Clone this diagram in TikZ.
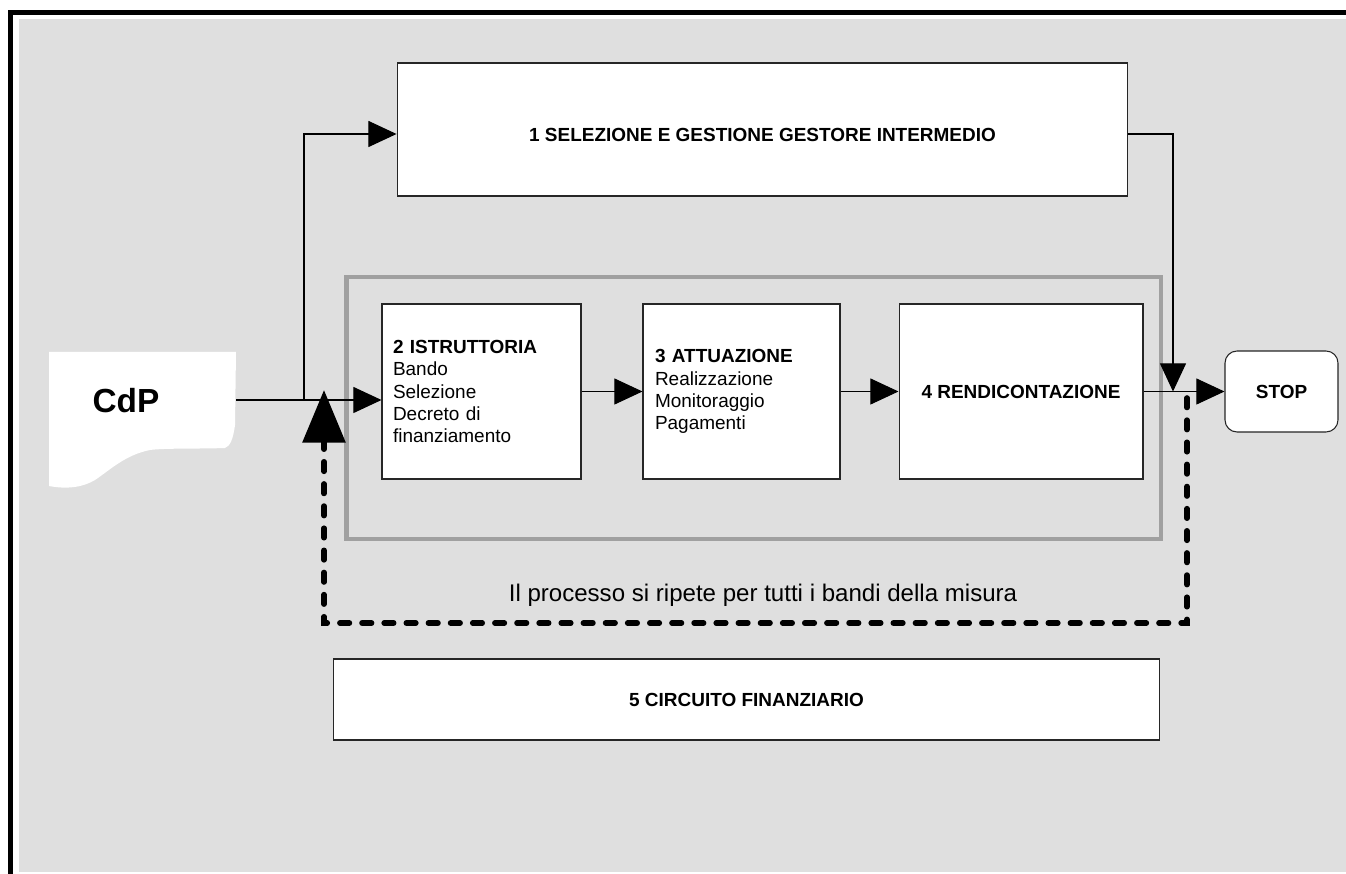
\documentclass[tikz,border=0pt]{standalone}
\usepackage{fontspec}
\setmainfont{Liberation Sans}
\usetikzlibrary{arrows.meta}

\definecolor{sfondo}{HTML}{DFDFDF}
\definecolor{cornice}{HTML}{A0A0A0}

\tikzset{
  box/.style={draw=black!85, line width=0.6pt, fill=white, inner sep=0pt,
    font=\fontsize{10.8}{12.6}\selectfont},
  arr/.style={line width=0.6pt, -{Triangle[length=16pt,width=14.8pt]}},
  bigarr/.style={line width=3.2pt, dash pattern=on 5.4pt off 7.2pt, line cap=round,
    -{Triangle[length=30pt,width=24pt]}},
  fase/.style={draw=cornice, line width=2.3pt}
}

\begin{document}
\begin{tikzpicture}[x=0.02cm,y=-0.02cm]
      \useasboundingbox (0,0) rectangle (1346,874);
      % Background and frame
      \fill[sfondo] (19,19) rectangle (1346,872);
      \draw[line width=2.8pt] (10.5,874) -- (10.5,12.5) -- (1346,12.5);

      % CdP document shape
      \fill[white] (49,352) -- (236,352) -- (235,425)
        .. controls (233,440) and (230,446) .. (225,448)
        .. controls (200,449) and (165,448) .. (150,450)
        .. controls (125,455) and (110,470) .. (95,480)
        .. controls (85,486) and (70,490) .. (49,486) -- cycle;
      \node[font=\bfseries\fontsize{19}{22}\selectfont] (cdp) at (126,401) {CdP};

      % Phase frame
      \draw[fase] (346.5,277) rectangle (1161,539);

      % ---------- Boxes ----------
      \node[box, minimum width=14.62cm, minimum height=2.66cm, text height=0.5cm,
        text depth=0pt] (sel) at (762.5,129.5)
        {\textbf{1 SELEZIONE E GESTIONE GESTORE INTERMEDIO}};
      \node[box, minimum height=3.5cm, text width=3.54cm, inner xsep=0.22cm, align=left]
        (istr) at (481.5,391.5)
        {\textbf{2 ISTRUTTORIA}\\Bando\\Selezione\\Decreto di\\finanziamento};
      \node[box, minimum height=3.5cm, text width=3.46cm, inner xsep=0.24cm, align=left]
        (att) at (741.5,391.5)
        {\textbf{3 ATTUAZIONE}\\Realizzazione\\Monitoraggio\\Pagamenti};
      \node[box, minimum width=4.88cm, minimum height=3.5cm] (rend) at (1021,391.5)
        {\textbf{4 RENDICONTAZIONE}};
      \node[box, rounded corners=0.24cm, minimum width=2.26cm, minimum height=1.62cm]
        (stop) at (1281.5,391.5) {\textbf{STOP}};
      \node[box, minimum width=16.54cm, minimum height=1.62cm] (circ) at (746.5,699.5)
        {\textbf{5 CIRCUITO FINANZIARIO}};

      % ---------- Connectors ----------
      \coordinate (cdpout) at (236,400);
      \coordinate (split) at (304,400);
      \coordinate (up) at (304,134);
      \coordinate (down) at (1173,134);
      \coordinate (junc) at (1173,391.5);
      \draw[line width=0.6pt] (cdpout) -- (split);
      \draw[arr] (split) -- (split -| istr.west);
      \draw[arr] (split) -- (up) -- (up -| sel.west);
      \draw[arr] (istr.east) -- (att.west);
      \draw[arr] (att.east) -- (rend.west);
      \draw[arr] (rend.east) -- (stop.west);
      \draw[arr] (down -| sel.east) -- (down) -- (junc);

      % ---------- Repeat loop ----------
      \coordinate (back) at (1187,398);
      \coordinate (ret) at (324,390);
      \draw[bigarr] (back) -- (back |- 0,623) -- (ret |- 0,623) -- (ret);
      \node[font=\fontsize{13.7}{16}\selectfont] (rip) at (763,595)
        {Il processo si ripete per tutti i bandi della misura};
\end{tikzpicture}
\end{document}
